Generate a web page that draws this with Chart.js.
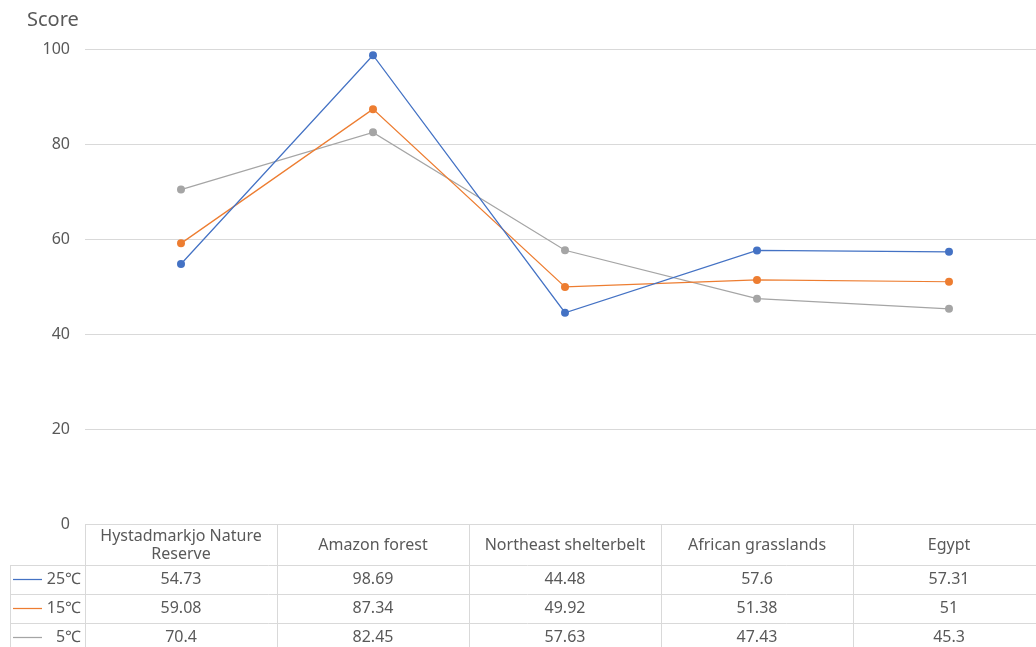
<!DOCTYPE html>
<html>
<head>
<meta charset="utf-8">
<script src="https://cdn.jsdelivr.net/npm/chart.js@4/dist/chart.umd.min.js"></script>
<style>
  html, body { margin: 0; padding: 0; background: #fff; overflow: hidden; }
  #wrap { width: 1036px; height: 647px; overflow: hidden; position: relative; }
  canvas { display: block; }
</style>
</head>
<body>
<div id="wrap"><canvas id="c" width="1049" height="647"></canvas></div>
<script>
// Sites compared and the score of each at three temperatures
const categories = [
  ["Hystadmarkjo Nature", "Reserve"],
  ["Amazon forest"],
  ["Northeast shelterbelt"],
  ["African grasslands"],
  ["Egypt"]
];
const seriesNames = ["25℃", "15℃", "5℃"];
const score25 = [54.73, 98.69, 44.48, 57.6, 57.31];
const score15 = [59.08, 87.34, 49.92, 51.38, 51];
const score5 = [70.4, 82.45, 57.63, 47.43, 45.3];
const yTicks = [0, 20, 40, 60, 80, 100];

const FONT = '"Noto Sans", "Noto Sans CJK SC", sans-serif';
const TEXT = '#595959';
const GRID = '#D9D9D9';
const colors = ['#4472C4', '#ED7D31', '#A5A5A5'];
const seriesValues = [score25, score15, score5];

// Data table drawn beneath the plot, aligned to the category bands
const dataTable = {
  id: 'dataTable',
  afterDraw(chart) {
    const ctx = chart.ctx;
    const x = chart.scales.x;
    const area = chart.chartArea;
    const n = categories.length;
    const band = (area.right - area.left) / n;
    const top = area.bottom;
    const headH = 41, rowH = 29;
    const keyLeft = 10;
    ctx.save();
    ctx.strokeStyle = GRID;
    ctx.lineWidth = 1;
    const rowsBottom = top + headH + rowH * seriesNames.length;
    // horizontal rules
    ctx.beginPath();
    ctx.moveTo(area.left, top + 0.5); ctx.lineTo(area.right, top + 0.5);
    for (let r = 0; r <= seriesNames.length; r++) {
      const y = Math.round(top + headH + rowH * r) + 0.5;
      ctx.moveTo(keyLeft, y); ctx.lineTo(area.right, y);
    }
    // vertical rules
    for (let i = 0; i <= n; i++) {
      const xx = Math.round(area.left + band * i) + 0.5;
      ctx.moveTo(xx, top); ctx.lineTo(xx, rowsBottom);
    }
    ctx.moveTo(keyLeft + 0.5, top + headH); ctx.lineTo(keyLeft + 0.5, rowsBottom);
    ctx.stroke();

    ctx.font = '16px ' + FONT;
    ctx.fillStyle = TEXT;
    ctx.textAlign = 'center';
    ctx.textBaseline = 'middle';
    // header labels
    categories.forEach((lines, i) => {
      const cx = x.getPixelForValue(i);
      const cy = top + headH / 2 + 1;
      const lh = 18;
      lines.forEach((t, k) => {
        ctx.fillText(t, cx, cy + (k - (lines.length - 1) / 2) * lh);
      });
    });
    // value rows with legend keys
    seriesNames.forEach((name, r) => {
      const cy = top + headH + rowH * r + rowH / 2;
      ctx.strokeStyle = colors[r];
      ctx.lineWidth = 1.25;
      ctx.beginPath();
      ctx.moveTo(13, cy); ctx.lineTo(42, cy);
      ctx.stroke();
      ctx.textAlign = 'right';
      ctx.fillText(name, 81, cy);
      ctx.textAlign = 'center';
      seriesValues[r].forEach((v, i) => {
        ctx.fillText(String(v), x.getPixelForValue(i), cy);
      });
    });
    // axis title
    ctx.font = '20px ' + FONT;
    ctx.textAlign = 'left';
    ctx.textBaseline = 'middle';
    ctx.fillText('Score', 27, 20);
    ctx.restore();
  }
};

new Chart(document.getElementById('c'), {
  type: 'line',
  data: {
    labels: categories.map(c => c.join(' ')),
    datasets: seriesNames.map((name, i) => ({
      label: name,
      data: seriesValues[i],
      borderColor: colors[i],
      backgroundColor: colors[i],
      borderWidth: 1.25,
      pointRadius: 4,
      pointHoverRadius: 4,
      pointBorderWidth: 0,
      tension: 0
    }))
  },
  options: {
    responsive: false,
    animation: false,
    devicePixelRatio: 1,
    layout: { padding: { top: 49, bottom: 123, left: 0, right: 0 } },
    plugins: { legend: { display: false }, tooltip: { enabled: false } },
    scales: {
      x: { display: false, offset: true },
      y: {
        min: 0, max: 100,
        afterFit(s) { s.width = 85; },
        afterBuildTicks(s) { s.ticks = yTicks.map(v => ({ value: v })); },
        border: { display: false },
        grid: { color: GRID, lineWidth: 1, drawTicks: false },
        ticks: { color: TEXT, font: { family: FONT, size: 16 }, padding: 15 }
      }
    }
  },
  plugins: [dataTable]
});
</script>
</body>
</html>
